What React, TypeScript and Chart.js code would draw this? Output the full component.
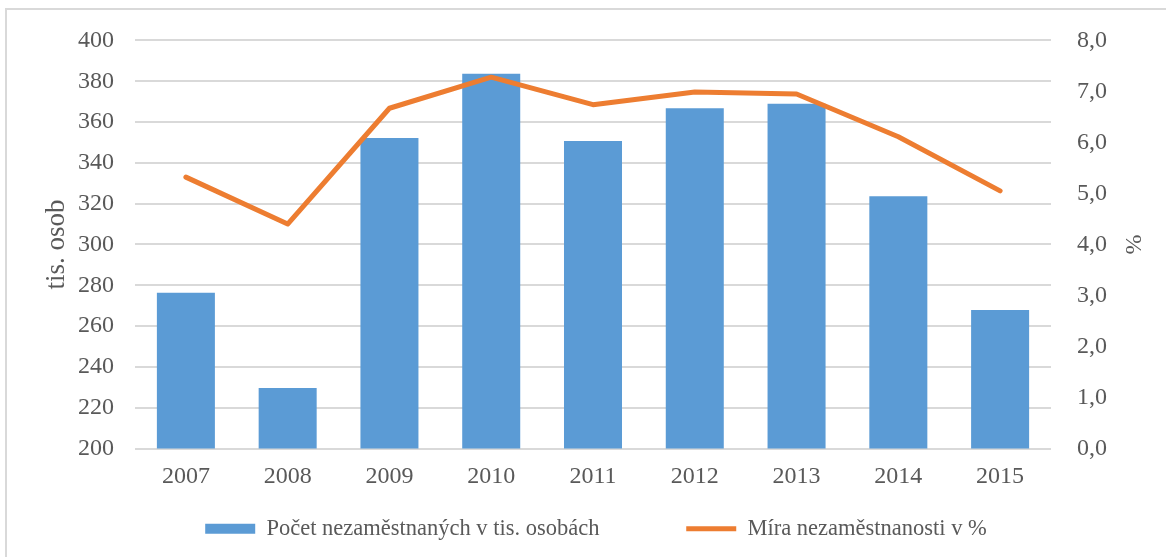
import React, { useEffect, useRef } from "react";
import { Chart, registerables } from "chart.js";

Chart.register(...registerables);

const years = ["2007", "2008", "2009", "2010", "2011", "2012", "2013", "2014", "2015"];
const unemployedThousands = [276.3, 229.6, 352.2, 383.6, 350.7, 366.8, 368.9, 323.6, 267.9];
const unemploymentRate = [5.32, 4.4, 6.67, 7.28, 6.74, 6.99, 6.95, 6.11, 5.05];
const barLabel = "Počet nezaměstnaných v tis. osobách";
const lineLabel = "Míra nezaměstnanosti v %";
const leftTitle = "tis. osob";
const rightTitle = "%";

const FONT = "'Liberation Serif', 'Times New Roman', serif";
const TEXT = "#595959";
const GRID = "#d9d9d9";

export default function App() {
  const ref = useRef<HTMLCanvasElement | null>(null);

  useEffect(() => {
    if (!ref.current) return;
    const chart = new Chart(ref.current, {
      type: "bar",
      data: {
        labels: years,
        datasets: [
          {
            type: "line",
            label: lineLabel,
            data: unemploymentRate,
            yAxisID: "y1",
            borderColor: "#ed7d31",
            backgroundColor: "#ed7d31",
            borderWidth: 5,
            borderCapStyle: "round",
            borderJoinStyle: "round",
            pointRadius: 0,
            pointHoverRadius: 0,
            pointStyle: "line",
            tension: 0,
            order: 0,
          } as any,
          {
            type: "bar",
            label: barLabel,
            data: unemployedThousands,
            yAxisID: "y",
            backgroundColor: "#5b9bd5",
            borderWidth: 0,
            barPercentage: 0.57,
            categoryPercentage: 1,
            pointStyle: "rect",
            order: 1,
          } as any,
        ],
      },
      options: {
        animation: false,
        responsive: false,
        maintainAspectRatio: false,
        layout: { padding: { top: 37, left: 26, right: 0, bottom: 7 } },
        plugins: {
          tooltip: { enabled: false },
          legend: {
            position: "bottom",
            reverse: true,
            labels: {
              usePointStyle: true,
              pointStyleWidth: 50,
              boxHeight: 10,
              padding: 8,
              color: TEXT,
              font: { family: FONT, size: 22.5 },
              generateLabels: (c: any) => {
                const items = Chart.defaults.plugins.legend.labels.generateLabels(c);
                return items.map((it: any) =>
                  it.datasetIndex === 1 ? { ...it, text: it.text + "\u0020".repeat(14) } : it
                );
              },
            },
          },
        },
        scales: {
          x: {
            grid: { display: false, drawTicks: false },
            border: { display: false },
            ticks: {
              color: TEXT,
              font: { family: FONT, size: 24 },
              padding: 14,
              maxRotation: 0,
            },
            afterFit: (s: any) => {
              s.height = 61;
            },
          },
          y: {
            position: "left",
            min: 200,
            max: 400,
            ticks: {
              stepSize: 20,
              color: TEXT,
              font: { family: FONT, size: 24 },
              padding: 21,
            },
            grid: { color: GRID, lineWidth: 2, drawTicks: false },
            border: { display: false },
            title: {
              display: true,
              text: leftTitle,
              color: TEXT,
              font: { family: FONT, size: 27 },
              padding: { top: 15, bottom: 0 },
            },
            afterFit: (s: any) => {
              s.width = 109;
            },
          },
          y1: {
            position: "right",
            min: 0,
            max: 8,
            ticks: {
              stepSize: 1,
              color: TEXT,
              font: { family: FONT, size: 24 },
              padding: 26,
              callback: (v: any) => Number(v).toFixed(1).replace(".", ","),
            },
            grid: { display: false, drawTicks: false },
            border: { display: false },
            title: {
              display: true,
              text: rightTitle,
              color: TEXT,
              font: { family: FONT, size: 24 },
              padding: { top: 19, bottom: 0 },
            },
            afterFit: (s: any) => {
              s.width = 115;
            },
          },
        },
      },
    });
    return () => chart.destroy();
  }, []);

  return (
    <div
      style={{
        position: "absolute",
        left: 0,
        top: 0,
        width: 1166,
        height: 557,
        overflow: "hidden",
        background: "#ffffff",
      }}
    >
      <div
        style={{
          position: "absolute",
          left: 5,
          top: 8,
          width: 1161,
          height: 549,
          borderLeft: `2px solid ${GRID}`,
          borderTop: `2px solid ${GRID}`,
          boxSizing: "border-box",
        }}
      />
      <canvas
        ref={ref}
        width={1166}
        height={557}
        style={{ position: "absolute", left: 0, top: 0, width: 1166, height: 557 }}
      />
    </div>
  );
}
